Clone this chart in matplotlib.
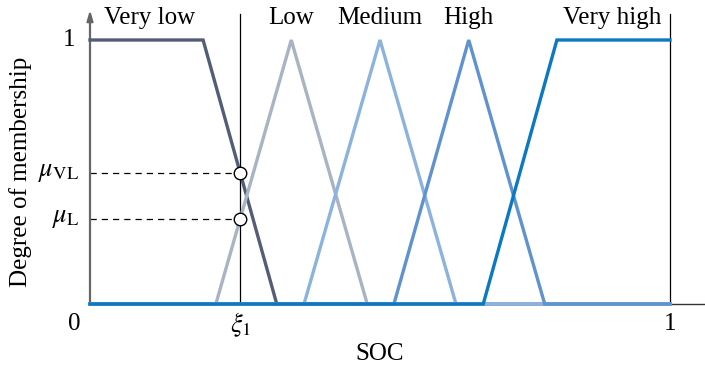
import matplotlib.pyplot as plt
import numpy as np

plt.rcParams['font.family'] = ['Liberation Serif', 'DejaVu Serif']
plt.rcParams['mathtext.fontset'] = 'stix'

# membership functions of SOC (breakpoints, degree)
names = ['Very low', 'Low', 'Medium', 'High', 'Very high']
vl_x = [0, 0.195, 0.322, 1]
vl_y = [1, 1, 0, 0]
low_x = [0, 0.217, 0.347, 0.478, 1]
low_y = [0, 0, 1, 0, 0]
med_x = [0, 0.369, 0.5, 0.631, 1]
med_y = [0, 0, 1, 0, 0]
high_x = [0, 0.524, 0.653, 0.784, 1]
high_y = [0, 0, 1, 0, 0]
vh_x = [0, 0.678, 0.805, 1]
vh_y = [0, 0, 1, 1]
colors = ['#545d78', '#a8b4c3', '#8bb3dd', '#5e93cf', '#0b79c1']
label_x = [0.103, 0.347, 0.5, 0.653, 0.9]

xi1 = 0.259
mu_vl = np.interp(xi1, vl_x, vl_y)
mu_l = np.interp(xi1, low_x, low_y)

fig = plt.figure(figsize=(7.05, 3.67), dpi=100)
ax = fig.add_axes([90 / 705, 63 / 367, 615 / 705, 294 / 367])
ax.set_xlim(0, 615 / 580)
ax.set_ylim(0, 294 / 264)

# guide lines
ax.plot([xi1, xi1], [0, 1.098], color='black', lw=0.9, zorder=1)
ax.plot([1, 1], [0, 1.098], color='black', lw=0.9, zorder=1)
ax.plot([0, xi1], [mu_vl, mu_vl], color='black', lw=0.9, ls=(0, (5, 4)), zorder=1)
ax.plot([0, xi1], [mu_l, mu_l], color='black', lw=0.9, ls=(0, (5, 4)), zorder=1)

curves = [(vl_x, vl_y), (low_x, low_y), (med_x, med_y), (high_x, high_y), (vh_x, vh_y)]
for (xs, ys), c in zip(curves, colors):
    ax.plot(xs, ys, color=c, lw=2.4, clip_on=False, zorder=3, solid_joinstyle='miter')

ax.plot([xi1, xi1], [mu_vl, mu_l], 'o', ms=9, mfc='white', mec='black', mew=1.0, zorder=5)

fs = 18
mfs = 19
for name, lx in zip(names, label_x):
    ax.text(lx, 1.085, name, ha='center', va='center', fontsize=fs)

# axes
for s in ['top', 'right', 'left']:
    ax.spines[s].set_visible(False)
ax.spines['bottom'].set_color('#333333')
ax.spines['bottom'].set_linewidth(1.0)
ax.annotate('', xy=(0, 294 / 264), xytext=(0, 0),
            arrowprops=dict(arrowstyle='-|>,head_length=0.6,head_width=0.18', color='#666666', lw=1.6,
                            shrinkA=0, shrinkB=0), annotation_clip=False, zorder=2)
ax.set_xticks([])
ax.set_yticks([])

ax.text(-0.025, 1, '1', ha='right', va='center', fontsize=fs)
ax.text(-0.018, mu_vl, r'$\mu_{\mathrm{VL}}$', ha='right', va='center', fontsize=mfs)
ax.text(-0.018, mu_l, r'$\mu_{\mathrm{L}}$', ha='right', va='center', fontsize=mfs)
ax.text(-0.028, -0.075, '0', ha='center', va='center', fontsize=fs)
ax.text(xi1, -0.08, r'$\xi_1$', ha='center', va='center', fontsize=mfs)
ax.text(1, -0.075, '1', ha='center', va='center', fontsize=fs)

ax.text(0.5, -0.19, 'SOC', ha='center', va='center', fontsize=fs)
ax.text(-0.12, 0.5, 'Degree of membership', ha='center', va='center', rotation=90, fontsize=fs)

fig.savefig('out.png', dpi=100)
